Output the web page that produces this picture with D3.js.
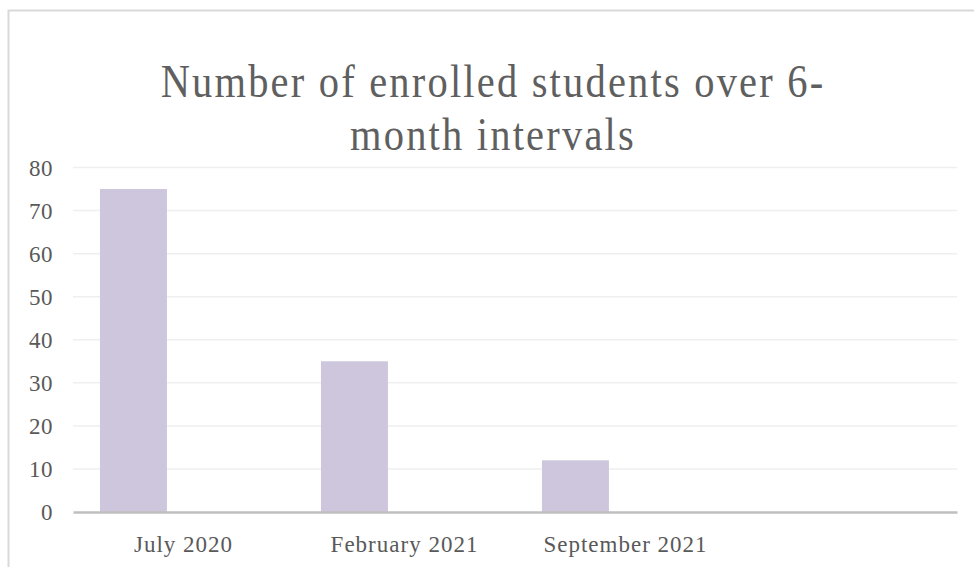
<!DOCTYPE html>
<html>
<head>
<meta charset="utf-8">
<script src="https://cdn.jsdelivr.net/npm/d3@7"></script>
<style>
  body { margin: 0; background: #fff; }
  text { font-family: "Liberation Serif", "Times New Roman", serif; fill: #595959; }
</style>
</head>
<body>
<div id="chart"></div>
<script>
// data
var categories = ["July 2020", "February 2021", "September 2021", ""];
var students = [75, 35, 12, null];
var yTicks = [0, 10, 20, 30, 40, 50, 60, 70, 80];
var titleLines = ["Number of enrolled students over 6-", "month intervals"];

var width = 974, height = 567;
var plot = { left: 73, right: 957, top: 167.5, bottom: 512 };

var svg = d3.select("#chart").append("svg")
  .attr("width", width)
  .attr("height", height);

// chart frame (top + left edges visible)
svg.append("path")
  .attr("d", "M8.5," + height + " L8.5,10.5 L" + width + ",10.5")
  .attr("fill", "none")
  .attr("stroke", "#d9d9d9")
  .attr("stroke-width", 2);

// title - narrow, spaced-out letters like the original
svg.selectAll(".title")
  .data(titleLines)
  .enter().append("text")
  .attr("class", "title")
  .attr("transform", function (d, i) {
    return "translate(493," + (97 + i * 53) + ") scale(0.88,1)";
  })
  .attr("text-anchor", "middle")
  .style("font-size", "46px")
  .style("letter-spacing", "2.5px")
  .style("fill", "#5f5f5f")
  .text(function (d) { return d; });

var x = d3.scaleBand()
  .domain(d3.range(categories.length))
  .range([plot.left, plot.right])
  .padding(0);

var y = d3.scaleLinear()
  .domain([0, 80])
  .range([plot.bottom, plot.top]);

// gridlines
svg.append("g")
  .selectAll("line")
  .data(yTicks.filter(function (d) { return d > 0; }))
  .enter().append("line")
  .attr("x1", plot.left)
  .attr("x2", plot.right)
  .attr("y1", function (d) { return y(d); })
  .attr("y2", function (d) { return y(d); })
  .attr("stroke", "#efefef")
  .attr("stroke-width", 1.5);

// y tick labels
var yAxis = svg.append("g")
  .attr("transform", "translate(" + (plot.left - 20) + ",0)")
  .call(d3.axisLeft(y).tickValues(yTicks).tickSize(0).tickPadding(0));
yAxis.select(".domain").remove();
yAxis.selectAll("text")
  .attr("dy", "0.34em")
  .style("font-size", "23px")
  .style("letter-spacing", "0.5px")
  .attr("fill", "#595959");

// bars
svg.append("g")
  .selectAll("rect")
  .data(students)
  .enter().append("rect")
  .filter(function (d) { return d != null; })
  .attr("x", function (d, i) { return x(i) + x.bandwidth() * 0.122; })
  .attr("width", x.bandwidth() * 0.303)
  .attr("y", function (d) { return y(d); })
  .attr("height", function (d) { return y(0) - y(d); })
  .attr("fill", "#cdc6dc");

// x axis
var xAxis = svg.append("g")
  .attr("transform", "translate(0," + plot.bottom + ")")
  .call(d3.axisBottom(x).tickSize(0).tickPadding(0).tickFormat(function (i) { return categories[i]; }));
xAxis.select(".domain")
  .attr("stroke", "#bfbfbf")
  .attr("stroke-width", 2.5);
xAxis.selectAll("text")
  .attr("y", 40)
  .attr("dy", 0)
  .style("font-size", "23px")
  .style("letter-spacing", "1px")
  .attr("fill", "#595959");
</script>
</body>
</html>
